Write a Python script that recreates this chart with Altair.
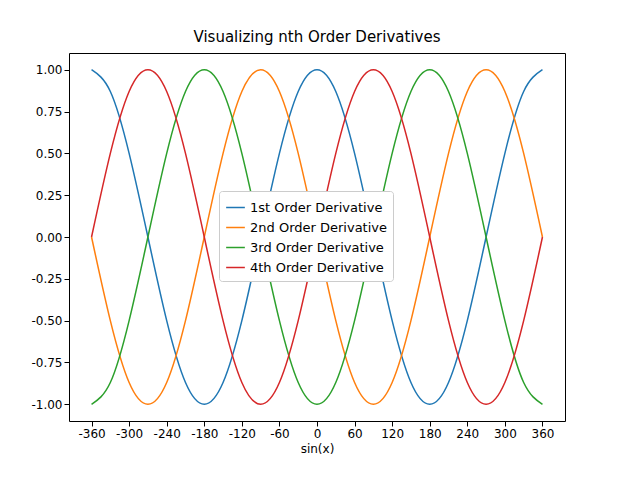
import altair as alt
import pandas as pd

# x in degrees, 30 degree steps
x_deg = list(range(-360, 361, 30))

first = [1, .87, .5, 0, -.5, -.87, -1, -.87, -.5, 0, .5, .87, 1, .87, .5, 0, -.5, -.87, -1, -.87, -.5, 0, .5, .87, 1]
second = [0, -.5, -.87, -1, -.87, -.5, 0, .5, .87, 1, .87, .5, 0, -.5, -.87, -1, -.87, -.5, 0, .5, .87, 1, .87, .5, 0]
third = [-1, -.87, -.5, 0, .5, .87, 1, .87, .5, 0, -.5, -.87, -1, -.87, -.5, 0, .5, .87, 1, .87, .5, 0, -.5, -.87, -1]
fourth = [0, .5, .87, 1, .87, .5, 0, -.5, -.87, -1, -.87, -.5, 0, .5, .87, 1, .87, .5, 0, -.5, -.87, -1, -.87, -.5, 0]

names = ["1st Order Derivative", "2nd Order Derivative", "3rd Order Derivative", "4th Order Derivative"]
colors = ["#1f77b4", "#ff7f0e", "#2ca02c", "#d62728"]

rows = []
for name, vals in zip(names, [first, second, third, fourth]):
    for x, y in zip(x_deg, vals):
        rows.append({"x": x, "y": y, "series": name})
df = pd.DataFrame(rows)

chart = (
    alt.Chart(df, title=alt.Title("Visualizing nth Order Derivatives", fontSize=15, fontWeight="normal", font="DejaVu Sans"))
    .mark_line(interpolate="natural", strokeWidth=1.5)
    .encode(
        alt.X("x:Q")
        .title("sin(x)")
        .scale(domain=[-396, 396], nice=False, zero=False)
        .axis(values=list(range(-360, 361, 60)), labelExpr="replace(datum.label, '−', '-')",
              grid=False, tickColor="black", domain=False),
        alt.Y("y:Q")
        .title(None)
        .scale(domain=[-1.1, 1.1], nice=False)
        .axis(values=[-1, -.75, -.5, -.25, 0, .25, .5, .75, 1], format=".2f",
              labelExpr="replace(datum.label, '−', '-')", grid=False, tickColor="black", domain=False),
        alt.Color("series:N")
        .scale(domain=names, range=colors)
        .legend(
            title=None, orient="none", legendX=150, legendY=138,
            fillColor="white", strokeColor="#cccccc", padding=6, cornerRadius=3,
            symbolType="stroke", symbolSize=350, symbolStrokeWidth=1.5,
            labelFontSize=13, labelFont="DejaVu Sans", labelColor="black",
        ),
        order=alt.Order("x:Q"),
    )
    .properties(width=496, height=368, padding={"left": 22, "top": 22, "right": 5, "bottom": 5})
    .configure_view(stroke="black", strokeWidth=1)
    .configure_axis(labelFont="DejaVu Sans", titleFont="DejaVu Sans", labelFontSize=12, titleFontSize=12,
                    titleFontWeight="normal", labelColor="black", titleColor="black")
    .configure_title(offset=8)
)

chart.save("out.html", embed_options={"renderer": "svg", "actions": False})
